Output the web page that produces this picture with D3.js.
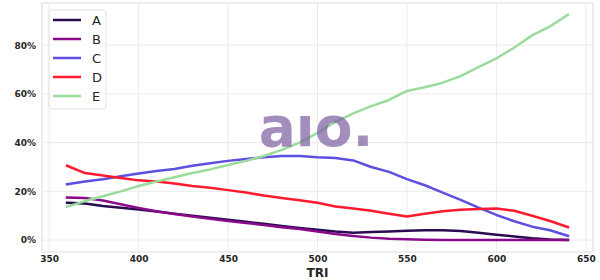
<!DOCTYPE html>
<html>
<head>
<meta charset="utf-8">
<script src="https://cdn.jsdelivr.net/npm/d3@7"></script>
<style>
  body { margin: 0; background: #fff; }
  svg { display: block; font-family: "DejaVu Sans", sans-serif; }
</style>
</head>
<body>
<div id="chart"></div>
<script>
// TRI values (x axis)
const tri = [360, 370, 380, 390, 400, 410, 420, 430, 440, 450, 460, 470, 480, 490, 500,
             510, 520, 530, 540, 550, 560, 570, 580, 590, 600, 610, 620, 630, 640];

const seriesNames = ['A', 'B', 'C', 'D', 'E'];
const seriesColors = ['#2b0b4f', '#8a0a8c', '#5d4fe0', '#ff1a2e', '#9adc9c'];

const valuesA = [0.153, 0.150, 0.140, 0.133, 0.125, 0.117, 0.108, 0.100, 0.092, 0.083, 0.075, 0.067, 0.058, 0.050, 0.042,
                 0.035, 0.030, 0.033, 0.035, 0.038, 0.040, 0.040, 0.037, 0.030, 0.022, 0.015, 0.007, 0.002, 0.000];
const valuesB = [0.175, 0.173, 0.162, 0.147, 0.132, 0.118, 0.107, 0.097, 0.087, 0.078, 0.070, 0.062, 0.053, 0.045, 0.035,
                 0.025, 0.017, 0.010, 0.005, 0.003, 0.001, 0.000, 0.000, 0.000, 0.000, 0.000, 0.000, 0.000, 0.000];
const valuesC = [0.229, 0.240, 0.250, 0.262, 0.273, 0.283, 0.292, 0.305, 0.315, 0.325, 0.333, 0.340, 0.345, 0.345, 0.340,
                 0.337, 0.327, 0.300, 0.280, 0.250, 0.225, 0.195, 0.165, 0.133, 0.103, 0.077, 0.055, 0.040, 0.017];
const valuesD = [0.305, 0.275, 0.265, 0.255, 0.245, 0.240, 0.232, 0.222, 0.215, 0.205, 0.195, 0.183, 0.173, 0.163, 0.153,
                 0.138, 0.130, 0.120, 0.108, 0.097, 0.108, 0.118, 0.124, 0.127, 0.130, 0.120, 0.100, 0.078, 0.053];
const valuesE = [0.137, 0.160, 0.180, 0.200, 0.222, 0.240, 0.258, 0.275, 0.290, 0.308, 0.325, 0.345, 0.370, 0.400, 0.440,
                 0.485, 0.520, 0.550, 0.575, 0.612, 0.627, 0.646, 0.673, 0.710, 0.746, 0.790, 0.840, 0.877, 0.925];

const xTicks = [350, 400, 450, 500, 550, 600, 650];
const yTicks = [0, 0.2, 0.4, 0.6, 0.8];

const width = 600, height = 280;
const margin = { top: 3, right: 7, bottom: 28, left: 42 };

const svg = d3.select('#chart').append('svg')
    .attr('width', width)
    .attr('height', height);

const x = d3.scaleLinear().domain([346, 654]).range([margin.left, width - margin.right]);
const y = d3.scaleLinear().domain([-0.049, 0.973]).range([height - margin.bottom, margin.top]);

// grid
const grid = svg.append('g');
grid.selectAll('.vgrid').data(xTicks).join('line')
    .attr('x1', d => x(d)).attr('x2', d => x(d))
    .attr('y1', margin.top).attr('y2', height - margin.bottom)
    .style('stroke', '#ebebeb').style('stroke-width', 1);
grid.selectAll('.hgrid').data(yTicks).join('line')
    .attr('x1', margin.left).attr('x2', width - margin.right)
    .attr('y1', d => y(d)).attr('y2', d => y(d))
    .style('stroke', '#ebebeb').style('stroke-width', 1);

// frame
svg.append('rect')
    .attr('x', margin.left).attr('y', margin.top)
    .attr('width', width - margin.left - margin.right)
    .attr('height', height - margin.top - margin.bottom)
    .style('fill', 'none').style('stroke', '#dcdcdc').style('stroke-width', 1);

// axes
const xAxis = svg.append('g')
    .attr('transform', `translate(0,${height - margin.bottom})`)
    .call(d3.axisBottom(x).tickValues(xTicks).tickSize(0).tickPadding(4));
const yAxis = svg.append('g')
    .attr('transform', `translate(${margin.left},0)`)
    .call(d3.axisLeft(y).tickValues(yTicks).tickSize(0).tickPadding(6).tickFormat(d3.format('.0%')));
[xAxis, yAxis].forEach(a => {
    a.select('.domain').remove();
    a.selectAll('text')
        .style('font-family', '"DejaVu Sans", sans-serif')
        .style('font-size', '9px')
        .style('font-weight', 'bold')
        .style('fill', '#262626');
});

svg.append('text')
    .attr('x', (margin.left + width - margin.right) / 2)
    .attr('y', 277)
    .attr('text-anchor', 'middle')
    .style('font-size', '12px')
    .style('font-weight', 'bold')
    .style('fill', '#262626')
    .text('TRI');

// lines
const allValues = [valuesA, valuesB, valuesC, valuesD, valuesE];
const line = d3.line().x((d, i) => x(tri[i])).y(d => y(d));
svg.append('g').selectAll('path').data(allValues).join('path')
    .attr('d', d => line(d))
    .style('fill', 'none')
    .style('stroke', (d, i) => seriesColors[i])
    .style('stroke-width', 2.5)
    .style('stroke-linejoin', 'round')
    .style('stroke-linecap', 'square');

// watermark
svg.append('text')
    .attr('x', 316)
    .attr('y', 146)
    .attr('text-anchor', 'middle')
    .style('font-size', '55px')
    .style('font-weight', 'bold')
    .style('fill', '#7b5ea0')
    .style('opacity', 0.7)
    .text('aıo.');

// legend
const legend = svg.append('g').attr('transform', 'translate(49,10)');
legend.append('rect')
    .attr('width', 57).attr('height', 99).attr('rx', 3)
    .style('fill', '#fff').style('fill-opacity', 0.8)
    .style('stroke', '#e0e0e0').style('stroke-width', 1);
const items = legend.selectAll('.item').data(seriesNames).join('g')
    .attr('transform', (d, i) => `translate(0,${10 + i * 19})`);
items.append('line')
    .attr('x1', 4).attr('x2', 32)
    .style('stroke', (d, i) => seriesColors[i])
    .style('stroke-width', 2.5);
items.append('text')
    .attr('x', 43).attr('y', 4.5)
    .style('font-size', '13px')
    .style('fill', '#262626')
    .text(d => d);
</script>
</body>
</html>
